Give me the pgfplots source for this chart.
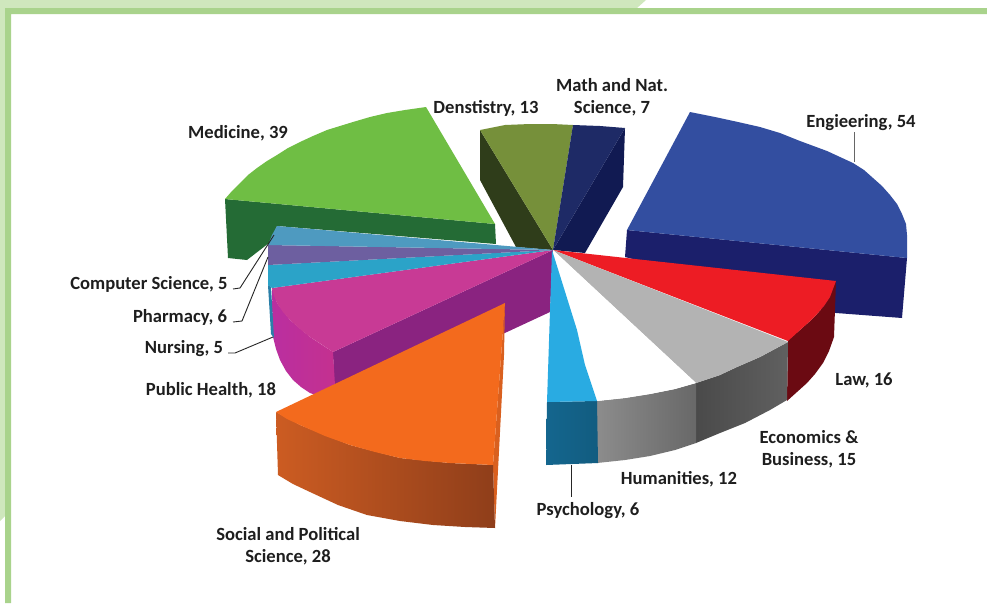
\documentclass[border=0pt]{standalone}
\usepackage{fontspec}
\setmainfont{Carlito}
\usepackage{pgfplots}
\pgfplotsset{compat=1.18}

% Faces of the exploded pie are plain polygons in pixel-like axis units
\newcommand{\face}[2]{\addplot[draw=none,fill=#1] coordinates {#2} --cycle;}
\newcommand{\shadedface}[3]{\addplot[draw=none,left color=#1,right color=#2] coordinates {#3} --cycle;}
\newcommand{\leader}[2]{\addplot[draw=#1,line width=0.9pt] coordinates {#2};}
\newcommand{\lab}[2]{\node[anchor=center,align=center,text=labelink,font=\fontsize{18.6}{22.5}\selectfont\bfseries] at (axis cs:#1) {#2};}

\definecolor{labelink}{HTML}{1E1E1E}
\definecolor{framelight}{HTML}{CFE7BD}
\definecolor{framedark}{HTML}{A9D38C}
\definecolor{MedSide}{HTML}{246B35}
\definecolor{MedTop}{HTML}{6FBE44}
\definecolor{DenSide}{HTML}{2F3D1A}
\definecolor{DenTop}{HTML}{76903A}
\definecolor{MathSide}{HTML}{111A52}
\definecolor{MathTop}{HTML}{1E2A66}
\definecolor{EngSide}{HTML}{1B1F6B}
\definecolor{EngTop}{HTML}{334EA0}
\definecolor{PubInner}{HTML}{8A2380}
\definecolor{PubOuterL}{HTML}{BA2FA0}
\definecolor{PubOuterR}{HTML}{C4308F}
\definecolor{PubTop}{HTML}{C83A95}
\definecolor{NurEdge}{HTML}{2A7FA8}
\definecolor{NurTop}{HTML}{2BA3C8}
\definecolor{PhaTop}{HTML}{6D5FA0}
\definecolor{CompTop}{HTML}{4E9AC0}
\definecolor{SocEdge}{HTML}{D9601F}
\definecolor{SocSideL}{HTML}{CC5C22}
\definecolor{SocSideR}{HTML}{8F3E1A}
\definecolor{SocTop}{HTML}{F36A1D}
\definecolor{LawSide}{HTML}{6B0A12}
\definecolor{LawTop}{HTML}{ED1C24}
\definecolor{EcoSideL}{HTML}{4A4A4A}
\definecolor{EcoSideR}{HTML}{606060}
\definecolor{EcoTop}{HTML}{B3B3B3}
\definecolor{HumSideL}{HTML}{8C8C8C}
\definecolor{HumSideR}{HTML}{686868}
\definecolor{PsySideL}{HTML}{14668E}
\definecolor{PsySideR}{HTML}{125C80}
\definecolor{PsyTop}{HTML}{29ABE2}

\begin{document}
\begin{tikzpicture}
\begin{axis}[
  scale only axis,width=987pt,height=603pt,
  xmin=0,xmax=987,ymin=0,ymax=603,y dir=reverse,
  axis lines=none,clip=true]

% page frame
\face{white}{(0,0)(987,0)(987,603)(0,603)}
\face{framelight}{(0,0)(646,0)(637,8)(5,8)(5,516)(0,521)}
\face{framedark}{(5,8)(987,8)(987,14)(11,14)(11,603)(5,603)}

% Medicine
\face{MedSide}{(225,199)(495,224)(496,244)(277,226)(269,243)(247,260)(228,258)}
\face{MedTop}{(495,224)(426,107)(405,110)(387,113)(370,117)(353,122)(340,126)(327,130)(313,136)(300,142)(288,148)(277,155)(267,161)(257,168)(248,175)(240,183)(232,191)(225,199)}

% Dentistry
\face{DenSide}{(480,130)(480,180)(516,247)(553,250)}
\face{DenTop}{(553,250)(480,130)(505,125)(530,124)(552,124)(573,125)}

% Math and Nat. Science
\face{MathSide}{(553,250)(625,128)(623,187)(585,253)}
\face{MathTop}{(553,250)(573,125)(600,126)(625,128)}

% Engineering
\face{EngSide}{(627,230)(907,258)(902,318)(836,313)(625,257)}
\face{EngTop}{(690,112)(715,117)(738,122)(760,127)(780,133)(800,141)(827,151)(853,163)(864,170)(873,178)(882,186)(890,195)(897,204)(902,214)(906,224)(907,235)(907,258)(627,230)}

% Public Health
\face{PubInner}{(553,250)(333,352)(335,412)(550,312)}
\shadedface{PubOuterL}{PubOuterR}{(272,288)(277,303)(290,320)(310,337)(333,352)(336,402)(310,393)(301,387)(293,380)(286,371)(280,360)(276,349)(273,337)}
\face{PubTop}{(553,250)(272,288)(274,296)(277,303)(283,312)(290,320)(300,329)(310,337)(321,344)(333,352)}

% Nursing, Pharmacy and Computer Science
\face{NurEdge}{(268,285)(271,287)(274,338)(271,334)}
\face{NurTop}{(553,250)(268,265)(268,285)(272,288)}
\face{PhaTop}{(553,250)(268,245)(268,265)}
\face{CompTop}{(553,250)(277,226)(272,235)(268,245)}

% Social and Political Science
\face{SocEdge}{(505,303)(504,355)(495,528)(493,465)}
\shadedface{SocSideL}{SocSideR}{(276,412)(300,425)(350,445)(400,458)(450,463)(493,465)(495,528)(465,527)(433,525)(400,521)(367,515)(338,505)(310,492)(293,484)(278,475)}
\face{SocTop}{(505,303)(276,412)(287,419)(300,425)(325,436)(350,445)(375,452)(400,458)(425,461)(450,463)(493,465)}

% Law
\face{LawSide}{(836,281)(834,337)(829,351)(823,363)(815,374)(807,383)(787,401)(788,340)(800,330)(809,322)(817,314)(824,306)(830,297)}
\face{LawTop}{(553,250)(836,281)(830,297)(824,306)(817,314)(809,322)(800,330)(788,341)}

% Economics and Business
\shadedface{EcoSideL}{EcoSideR}{(696,383)(720,375)(737,367)(760,357)(788,342)(787,400)(770,410)(745,423)(720,433)(696,443)}
\face{EcoTop}{(553,250)(788,342)(760,357)(737,367)(720,375)(696,383)}

% Humanities
\shadedface{HumSideL}{HumSideR}{(597,401)(625,398)(650,394)(675,389)(696,383)(696,443)(675,450)(650,456)(625,460)(597,463)}
\face{white}{(553,250)(696,383)(675,389)(650,394)(625,398)(597,401)}

% Psychology
\shadedface{PsySideL}{PsySideR}{(547,402)(597,401)(598,463)(546,465)}
\face{PsyTop}{(552,250)(547,402)(597,401)(585,365)(577,330)}

% leader lines
\leader{black!60}{(854,132)(854,162)}
\leader{black!85}{(571,465)(571,497)}
\leader{black!85}{(233,289)(240,288)(274,235)}
\leader{black!85}{(233,322)(242,321)(268,257)}
\leader{black!85}{(228,353)(235,353)(273,337)}

% labels
\lab{238,133}{Medicine, 39}
\lab{486,108}{Denstistry, 13}
\lab{612,97}{Math and Nat.\\Science, 7}
\lab{861,123}{Engieering, 54}
\lab{864,380}{Law, 16}
\lab{809,449}{Economics \&\\Business, 15}
\lab{679,479}{Humanities, 12}
\lab{588,511}{Psychology, 6}
\lab{288,546}{Social and Political\\Science, 28}
\lab{211,390}{Public Health, 18}
\lab{184,349}{Nursing, 5}
\lab{180,317}{Pharmacy, 6}
\lab{149,284}{Computer Science, 5}
\end{axis}
\end{tikzpicture}
\end{document}
